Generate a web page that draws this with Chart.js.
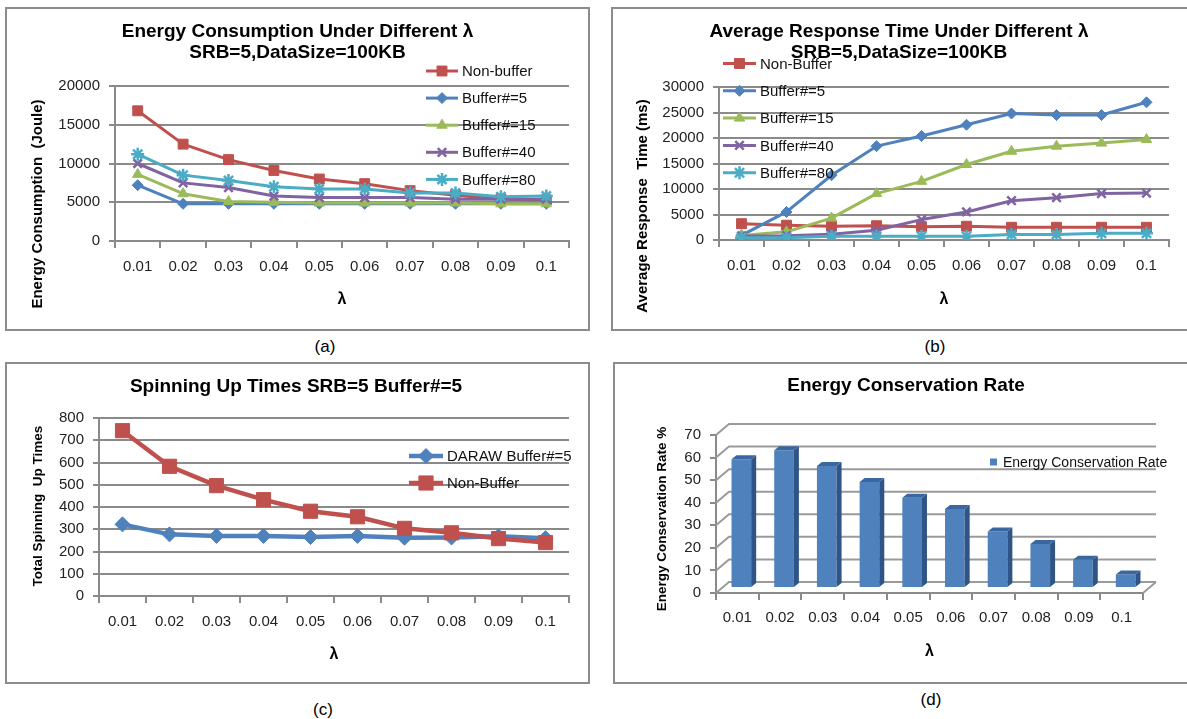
<!DOCTYPE html>
<html>
<head>
<meta charset="utf-8">
<script src="https://cdn.jsdelivr.net/npm/chart.js@4.4.0/dist/chart.umd.min.js"></script>
<style>
  body { margin: 0; background: #fff; width: 1187px; height: 719px; overflow: hidden; position: relative;
         font-family: 'Liberation Sans', Arial, sans-serif; }
  .frame { position: absolute; border: 2px solid #8c8c8c; box-sizing: border-box; }
  canvas { position: absolute; }
  .cap { position: absolute; font-size: 17px; color: #000; transform: translate(-50%, -50%); }
</style>
</head>
<body>
<div class="frame" style="left:5px;top:7px;width:585px;height:324px"></div>
<div class="frame" style="left:611px;top:7px;width:590px;height:324px"></div>
<div class="frame" style="left:5px;top:362px;width:585px;height:322px"></div>
<div class="frame" style="left:613px;top:362px;width:590px;height:322px"></div>

<canvas id="chartA" width="583" height="323" style="left:6px;top:7px"></canvas>
<canvas id="chartB" width="576" height="323" style="left:611px;top:7px"></canvas>
<canvas id="chartC" width="583" height="321" style="left:6px;top:362px"></canvas>
<canvas id="chartD" width="573" height="321" style="left:614px;top:362px"></canvas>

<div class="cap" style="left:325px;top:347px">(a)</div>
<div class="cap" style="left:935px;top:347px">(b)</div>
<div class="cap" style="left:323px;top:710px">(c)</div>
<div class="cap" style="left:931px;top:700px">(d)</div>

<script>
// ---- data ----
var lambdas = ['0.01', '0.02', '0.03', '0.04', '0.05', '0.06', '0.07', '0.08', '0.09', '0.1'];

// (a) energy consumption, Joule
var energyNonBuffer = [16800, 12500, 10500, 9100, 8000, 7400, 6500, 5900, 5400, 5300];
var energyBuf5      = [7200, 4800, 4800, 4800, 4800, 4800, 4800, 4800, 4800, 4800];
var energyBuf15     = [8600, 6100, 5100, 5000, 4900, 4900, 4900, 4900, 4800, 4800];
var energyBuf40     = [10000, 7500, 6900, 5800, 5600, 5600, 5600, 5400, 5400, 5400];
var energyBuf80     = [11200, 8500, 7800, 7000, 6700, 6700, 6200, 6200, 5700, 5800];

// (b) average response time, ms
var respNonBuffer = [3200, 2900, 2700, 2800, 2600, 2700, 2500, 2500, 2500, 2500];
var respBuf5      = [900, 5500, 12700, 18400, 20400, 22600, 24800, 24500, 24500, 27000];
var respBuf15     = [900, 1600, 4300, 9100, 11500, 14800, 17400, 18400, 19000, 19700];
var respBuf40     = [800, 850, 1150, 1900, 4000, 5500, 7700, 8300, 9100, 9200];
var respBuf80     = [450, 450, 750, 750, 750, 750, 1100, 1100, 1300, 1300];

// (c) total spinning up times
var spinDaraw     = [322, 277, 270, 270, 265, 270, 262, 263, 268, 260];
var spinNonBuffer = [743, 583, 496, 433, 381, 356, 304, 284, 258, 240];

// (d) energy conservation rate, %
var conservationRate = [57, 61, 54, 47, 40, 35, 25, 19.5, 12.5, 6];

// ---- styling ----
var FONT = "'Liberation Sans', Arial, sans-serif";
var GRID = '#8a8a8a';
var RED = '#C0504D', BLUE = '#4F81BD', GREEN = '#9BBB59', PURPLE = '#8064A2', CYAN = '#4BACC6';

function drawMarker(ctx, ds, x, y) {
    ctx.fillStyle = ds.backgroundColor;
    ctx.strokeStyle = ds.borderColor;
    ctx.lineWidth = ds.pointBorderWidth;
    Chart.helpers.drawPoint(ctx, {
        pointStyle: ds.pointStyle, rotation: 0, radius: ds.pointRadius, borderWidth: ds.pointBorderWidth
    }, x, y);
}

// titles, rotated axis titles and a free-standing legend
var decor = {
    id: 'decor',
    afterDraw: function (chart, args, o) {
        var ctx = chart.ctx, a = chart.chartArea;
        ctx.save();
        ctx.fillStyle = '#000';
        ctx.textAlign = 'center';
        ctx.textBaseline = 'middle';
        (o.texts || []).forEach(function (t) {
            ctx.save();
            ctx.font = t.font;
            ctx.translate(t.x == null ? (a.left + a.right) / 2 : t.x, t.y);
            if (t.rotate) ctx.rotate(-Math.PI / 2);
            ctx.fillText(t.text, 0, 0);
            ctx.restore();
        });
        var lg = o.legend;
        if (lg) {
            chart.data.datasets.forEach(function (ds, i) {
                var y = lg.y + i * lg.gap;
                ctx.save();
                if (lg.box) {
                    ctx.fillStyle = ds.backgroundColor;
                    ctx.fillRect(lg.x, y - lg.box / 2, lg.box, lg.box);
                } else {
                    ctx.strokeStyle = ds.borderColor;
                    ctx.lineWidth = ds.borderWidth;
                    ctx.beginPath();
                    ctx.moveTo(lg.x, y);
                    ctx.lineTo(lg.x + lg.len, y);
                    ctx.stroke();
                    drawMarker(ctx, ds, lg.x + lg.len / 2, y);
                }
                ctx.restore();
                ctx.fillStyle = '#111';
                ctx.font = lg.font;
                ctx.textAlign = 'left';
                ctx.fillText(ds.label, lg.textX, y + 1);
            });
        }
        ctx.restore();
    }
};

function series(label, data, color, style, radius, order, width) {
    var crossy = style === 'crossRot' || style === 'star';
    return {
        label: label, data: data, borderColor: color, backgroundColor: color,
        borderWidth: width, pointStyle: style, pointRadius: radius, pointHoverRadius: radius,
        pointBorderWidth: crossy ? 2.5 : 1, tension: 0, order: order, borderJoinStyle: 'round'
    };
}

function plain(v) { return String(v); }

function axes(yMax, yStep, tickSize) {
    return {
        x: {
            offset: true,
            grid: { offset: true, drawOnChartArea: false, tickLength: 7, color: GRID, lineWidth: 2 },
            border: { color: GRID, width: 2 },
            ticks: { font: { family: FONT, size: tickSize }, color: '#222', padding: 10, maxRotation: 0, autoSkip: false },
            afterFit: function (s) { s.height = 40; }
        },
        y: {
            min: 0, max: yMax,
            grid: { color: GRID, lineWidth: 2, tickLength: 6 },
            border: { color: GRID, width: 2 },
            ticks: { stepSize: yStep, font: { family: FONT, size: tickSize }, color: '#222', padding: 9, callback: plain },
            afterFit: function (s) { s.width = 60; }
        }
    };
}

function padding(area, size) {
    return { left: area.l - 60, top: area.t, right: size.w - area.r, bottom: size.h - area.b - 40 };
}

function lineChart(id, datasets, size, area, yMax, yStep, tickSize, deco) {
    new Chart(document.getElementById(id), {
        type: 'line',
        data: { labels: lambdas, datasets: datasets },
        options: {
            responsive: false,
            animation: false,
            devicePixelRatio: 1,
            layout: { padding: padding(area, size) },
            plugins: { legend: { display: false }, tooltip: { enabled: false }, decor: deco },
            scales: axes(yMax, yStep, tickSize)
        },
        plugins: [decor]
    });
}

var titleFont = 'bold 19px ' + FONT;
var legendFont = '15px ' + FONT;

// (a)
lineChart('chartA', [
    series('Non-buffer', energyNonBuffer, RED, 'rect', 7, 5, 3),
    series('Buffer#=5', energyBuf5, BLUE, 'rectRot', 5.5, 4, 3),
    series('Buffer#=15', energyBuf15, GREEN, 'triangle', 6, 3, 3),
    series('Buffer#=40', energyBuf40, PURPLE, 'crossRot', 6, 2, 3),
    series('Buffer#=80', energyBuf80, CYAN, 'star', 6.5, 1, 3)
], { w: 583, h: 323 }, { l: 109, t: 79, r: 563, b: 234 }, 20000, 5000, 15, {
    texts: [
        { text: 'Energy Consumption Under Different λ', x: 291.5, y: 25, font: titleFont },
        { text: 'SRB=5,DataSize=100KB', x: 291.5, y: 46, font: titleFont },
        { text: 'Energy Consumption  (Joule)', x: 32, y: 197, rotate: true, font: 'bold 15px ' + FONT },
        { text: 'λ', x: null, y: 293, font: 'bold 16px ' + FONT }
    ],
    legend: { x: 420, y: 64, gap: 27.1, len: 32, textX: 456, font: legendFont }
});

// (b)
lineChart('chartB', [
    series('Non-Buffer', respNonBuffer, RED, 'rect', 7, 5, 3),
    series('Buffer#=5', respBuf5, BLUE, 'rectRot', 5.5, 4, 3),
    series('Buffer#=15', respBuf15, GREEN, 'triangle', 6, 3, 3),
    series('Buffer#=40', respBuf40, PURPLE, 'crossRot', 6, 2, 3),
    series('Buffer#=80', respBuf80, CYAN, 'star', 6.5, 1, 3)
], { w: 576, h: 323 }, { l: 108, t: 80, r: 558, b: 233 }, 30000, 5000, 15, {
    texts: [
        { text: 'Average Response Time Under Different λ', x: 288, y: 25, font: titleFont },
        { text: 'SRB=5,DataSize=100KB', x: 288, y: 46, font: titleFont },
        { text: 'Average Response  Time (ms)', x: 32, y: 199, rotate: true, font: 'bold 15px ' + FONT },
        { text: 'λ', x: null, y: 293, font: 'bold 16px ' + FONT }
    ],
    legend: { x: 112, y: 56.5, gap: 27.3, len: 33, textX: 149, font: legendFont }
});

// (c)
lineChart('chartC', [
    series('DARAW Buffer#=5', spinDaraw, BLUE, 'rectRot', 7.5, 2, 4.5),
    series('Non-Buffer', spinNonBuffer, RED, 'rect', 10, 1, 4.5)
], { w: 583, h: 321 }, { l: 93, t: 56, r: 563, b: 234 }, 800, 100, 15, {
    texts: [
        { text: 'Spinning Up Times SRB=5 Buffer#=5', x: 290, y: 25, font: titleFont },
        { text: 'Total Spinning  Up Times', x: 32, y: 144, rotate: true, font: 'bold 13.5px ' + FONT },
        { text: 'λ', x: null, y: 293, font: 'bold 16px ' + FONT }
    ],
    legend: { x: 403, y: 94, gap: 27, len: 34, textX: 441, font: legendFont }
});

// (d) pseudo 3D columns: back wall grid, shifted bars with side and top faces
var bar3d = {
    id: 'bar3d',
    beforeDatasetsDraw: function (chart, args, o) {
        var ctx = chart.ctx, a = chart.chartArea, s = chart.scales.y;
        ctx.save();
        ctx.strokeStyle = '#9a9a9a';
        ctx.lineWidth = 2;
        s.ticks.forEach(function (t) {
            var y = s.getPixelForValue(t.value);
            ctx.beginPath();
            ctx.moveTo(a.left, y);
            ctx.lineTo(a.left + o.wallX, y + o.wallY);
            ctx.lineTo(a.right + o.wallX, y + o.wallY);
            ctx.stroke();
        });
        ctx.beginPath();
        ctx.moveTo(a.right, a.bottom);
        ctx.lineTo(a.right + o.wallX, a.bottom + o.wallY);
        ctx.stroke();
        ctx.restore();
        ctx.save();
        ctx.translate(o.shiftX, o.shiftY);
    },
    afterDatasetsDraw: function (chart, args, o) {
        var ctx = chart.ctx;
        chart.getDatasetMeta(0).data.forEach(function (bar) {
            var p = bar.getProps(['x', 'y', 'base', 'width'], true);
            var l = p.x - p.width / 2, r = p.x + p.width / 2;
            ctx.fillStyle = o.side;
            ctx.beginPath();
            ctx.moveTo(r, p.y);
            ctx.lineTo(r + o.depthX, p.y + o.depthY);
            ctx.lineTo(r + o.depthX, p.base + o.depthY);
            ctx.lineTo(r, p.base);
            ctx.closePath();
            ctx.fill();
            ctx.fillStyle = o.top;
            ctx.beginPath();
            ctx.moveTo(l, p.y);
            ctx.lineTo(l + o.depthX, p.y + o.depthY);
            ctx.lineTo(r + o.depthX, p.y + o.depthY);
            ctx.lineTo(r, p.y);
            ctx.closePath();
            ctx.fill();
        });
        ctx.restore();
    }
};

var sizeD = { w: 573, h: 321 }, areaD = { l: 102, t: 73, r: 529, b: 231 };
var axesD = axes(70, 10, 15);
axesD.x.ticks.padding = 9;
axesD.y.grid.drawOnChartArea = false;

new Chart(document.getElementById('chartD'), {
    type: 'bar',
    data: {
        labels: lambdas,
        datasets: [{
            label: 'Energy Conservation Rate', data: conservationRate,
            backgroundColor: BLUE, borderWidth: 0, categoryPercentage: 1, barPercentage: 0.46
        }]
    },
    options: {
        responsive: false,
        animation: false,
        devicePixelRatio: 1,
        layout: { padding: padding(areaD, sizeD) },
        plugins: {
            legend: { display: false }, tooltip: { enabled: false },
            bar3d: { wallX: 13, wallY: -11, shiftX: 4, shiftY: -5, depthX: 5, depthY: -4, side: '#2F5486', top: '#3B67A0' },
            decor: {
                texts: [
                    { text: 'Energy Conservation Rate', x: 292, y: 24, font: titleFont },
                    { text: 'Energy Conservation Rate %', x: 48, y: 157, rotate: true, font: 'bold 13.5px ' + FONT },
                    { text: 'λ', x: null, y: 290, font: 'bold 16px ' + FONT }
                ],
                legend: { x: 376, y: 100, gap: 0, box: 7, textX: 389, font: '14px ' + FONT }
            }
        },
        scales: axesD
    },
    plugins: [bar3d, decor]
});
</script>
</body>
</html>
